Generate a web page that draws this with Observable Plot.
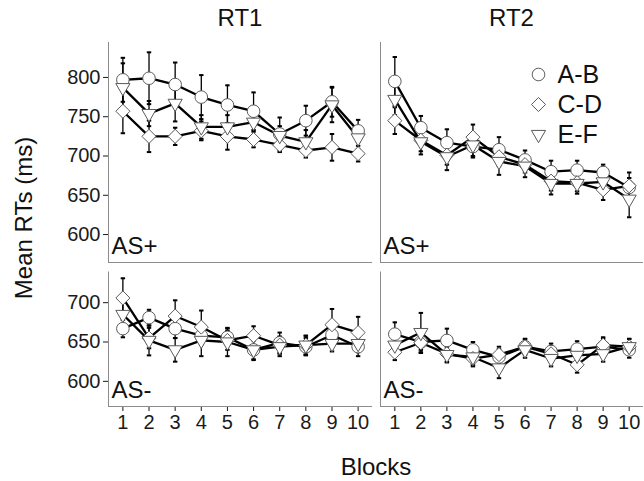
<!DOCTYPE html>
<html>
<head>
<meta charset="utf-8">
<script src="https://cdn.jsdelivr.net/npm/d3@7"></script>
<script src="https://cdn.jsdelivr.net/npm/@observablehq/plot@0.6"></script>
<style>
  html, body { margin: 0; padding: 0; background: white; }
  #chart { position: relative; width: 644px; height: 481px; background: white; overflow: hidden;
           font-family: 'Liberation Sans', Arial, Helvetica, sans-serif; color: #111; }
  .abs { position: absolute; }
  .title { font-size: 24px; line-height: 24px; white-space: nowrap; }
</style>
</head>
<body>
<div id="chart"></div>
<script>
// ---------------- data ----------------
const blocks = [1, 2, 3, 4, 5, 6, 7, 8, 9, 10];
const series = ["A-B", "C-D", "E-F"];
const rtLabels = ["RT1", "RT2"];
const asLabels = ["AS+", "AS-"];
const yTicksTop = [600, 650, 700, 750, 800];
const yTicksBottom = [600, 650, 700];

// means per series (A-B, C-D, E-F) for each panel
const rt1PlusMeans = [
  [797, 799, 791, 775, 765, 757, 728, 745, 769, 732],
  [757, 725, 725, 732, 725, 721, 714, 707, 711, 703],
  [787, 754, 767, 737, 737, 743, 726, 718, 765, 723]
];
const rt1PlusSE = [
  [28, 33, 28, 28, 25, 24, 21, 19, 19, 14],
  [28, 20, 11, 12, 17, 10, 9, 9, 17, 10],
  [31, 16, 23, 15, 15, 17, 12, 15, 22, 14]
];
const rt2PlusMeans = [
  [795, 736, 717, 712, 708, 695, 680, 682, 679, 660],
  [745, 720, 701, 724, 699, 689, 668, 666, 657, 662],
  [772, 718, 699, 714, 693, 687, 665, 665, 667, 645]
];
const rt2PlusSE = [
  [31, 15, 17, 14, 16, 12, 14, 12, 10, 12],
  [17, 14, 12, 16, 12, 10, 12, 11, 13, 17],
  [20, 16, 17, 14, 17, 14, 14, 13, 15, 23]
];
const rt1MinusMeans = [
  [667, 681, 667, 658, 656, 640, 649, 644, 659, 644],
  [706, 655, 683, 669, 652, 658, 646, 646, 672, 662],
  [685, 652, 640, 652, 650, 640, 644, 646, 648, 648]
];
const rt1MinusSE = [
  [11, 10, 12, 11, 11, 13, 13, 11, 12, 12],
  [25, 13, 20, 21, 12, 12, 11, 12, 20, 20],
  [17, 19, 15, 20, 18, 12, 12, 12, 10, 11]
];
const rt2MinusMeans = [
  [660, 650, 652, 640, 631, 644, 638, 641, 644, 640],
  [637, 649, 635, 629, 634, 644, 635, 621, 646, 644],
  [646, 662, 634, 631, 617, 640, 629, 633, 635, 644]
];
const rt2MinusSE = [
  [15, 10, 15, 10, 10, 10, 10, 10, 10, 10],
  [10, 13, 10, 10, 10, 10, 10, 10, 10, 10],
  [10, 25, 10, 10, 13, 10, 10, 12, 10, 10]
];

// ---------------- helpers ----------------
const FONT = "'Liberation Sans', Arial, Helvetica, sans-serif";
const rad = (size) => Math.sqrt(size / Math.PI);
const circleSym = { draw(ctx, size) { const r = rad(size); ctx.moveTo(r, 0); ctx.arc(0, 0, r, 0, 2 * Math.PI); } };
const diamondSym = { draw(ctx, size) { const r = rad(size) * 1.12; ctx.moveTo(0, -r); ctx.lineTo(r, 0); ctx.lineTo(0, r); ctx.lineTo(-r, 0); ctx.closePath(); } };
const triDownSym = { draw(ctx, size) { const r = rad(size); const s = 2.25 * r; const h = s * 0.866;
  ctx.moveTo(-s / 2, -h / 3); ctx.lineTo(s / 2, -h / 3); ctx.lineTo(0, 2 * h / 3); ctx.closePath(); } };
const capSym = { draw(ctx, size) { const r = rad(size); ctx.moveTo(-r, 0); ctx.lineTo(r, 0); } };

function rows(means, ses) {
  return series.flatMap((s, i) => blocks.map((b, j) => ({ block: b, series: s, mean: means[i][j], se: ses[i][j] })));
}

const xDomain = [0.45, 10.55];
const yDomainTop = [564.4, 844.5];
const yDomainBottom = [568, 739];
const symbolScale = { domain: series, range: [circleSym, diamondSym, triDownSym] };

function panel({ data, yDomain, yTicks, showY, showX, label, width, height, margins }) {
  return Plot.plot({
    width, height,
    marginLeft: margins[3], marginRight: margins[1], marginTop: margins[0], marginBottom: margins[2],
    style: { fontFamily: FONT, fontSize: "20px", color: "#1a1a1a", background: "white", overflow: "visible" },
    x: showX ? { domain: xDomain, ticks: blocks, tickSize: 5, tickPadding: 3, label: null, tickFormat: d => String(d) }
             : { domain: xDomain, axis: null },
    y: showY ? { domain: yDomain, ticks: yTicks, tickSize: 5, tickPadding: 3, label: null }
             : { domain: yDomain, axis: null },
    symbol: symbolScale,
    marks: [
      Plot.ruleX([xDomain[0]], { stroke: "#8c8c8c", strokeWidth: 1 }),
      Plot.ruleY([yDomain[0]], { stroke: "#8c8c8c", strokeWidth: 1 }),
      Plot.ruleX(data, { x: "block", y1: d => d.mean - d.se, y2: d => d.mean + d.se, stroke: "#000", strokeWidth: 1.3 }),
      Plot.dot(data, { x: "block", y: d => d.mean + d.se, symbol: capSym, r: 2.2, fill: "none", stroke: "#000", strokeWidth: 2 }),
      Plot.dot(data, { x: "block", y: d => d.mean - d.se, symbol: capSym, r: 2.2, fill: "none", stroke: "#000", strokeWidth: 2 }),
      Plot.line(data, { x: "block", y: "mean", z: "series", stroke: "#000", strokeWidth: 2.3 }),
      Plot.dot(data, { x: "block", y: "mean", symbol: "series", r: 6.3, fill: "white", stroke: "#5a5a5a", strokeWidth: 1 }),
      Plot.text([label], { text: d => d, frameAnchor: "bottom-left", lineAnchor: "bottom", textAnchor: "start",
                           dx: 3, dy: -9, fontSize: 24, fill: "#111" })
    ]
  });
}

const chart = document.getElementById("chart");
function place(node, left, top) {
  const wrap = document.createElement("div");
  wrap.className = "abs";
  wrap.style.left = left + "px";
  wrap.style.top = top + "px";
  wrap.appendChild(node);
  chart.appendChild(wrap);
}

// top-left: RT1 / AS+
place(panel({ data: rows(rt1PlusMeans, rt1PlusSE), yDomain: yDomainTop, yTicks: yTicksTop, showY: true, showX: false,
  label: asLabels[0], width: 376, height: 266, margins: [42, 4, 4, 108] }), 0, 0);
// top-right: RT2 / AS+
place(panel({ data: rows(rt2PlusMeans, rt2PlusSE), yDomain: yDomainTop, yTicks: yTicksTop, showY: false, showX: false,
  label: asLabels[0], width: 268, height: 266, margins: [42, 1, 4, 4] }), 376, 0);
// bottom-left: RT1 / AS-
place(panel({ data: rows(rt1MinusMeans, rt1MinusSE), yDomain: yDomainBottom, yTicks: yTicksBottom, showY: true, showX: true,
  label: asLabels[1], width: 376, height: 174, margins: [5.5, 4, 34, 108] }), 0, 266);
// bottom-right: RT2 / AS-
place(panel({ data: rows(rt2MinusMeans, rt2MinusSE), yDomain: yDomainBottom, yTicks: yTicksBottom, showY: false, showX: true,
  label: asLabels[1], width: 268, height: 174, margins: [5.5, 1, 34, 4] }), 376, 266);

// legend (inside RT2 / AS+ panel)
const legend = Plot.plot({
  width: 110, height: 100, margin: 0, marginLeft: 18,
  style: { fontFamily: FONT, fontSize: "25px", color: "#111", background: "transparent", overflow: "visible" },
  x: { axis: null },
  y: { type: "point", domain: series, range: [18, 79], padding: 0, axis: null },
  symbol: symbolScale,
  marks: [
    Plot.dot(series, { y: d => d, symbol: d => d, frameAnchor: "left", r: 6.3, fill: "white", stroke: "#5a5a5a", strokeWidth: 1 }),
    Plot.text(series, { y: d => d, text: d => d, frameAnchor: "left", dx: 19, textAnchor: "start", fontSize: 25, fill: "#111" })
  ]
});
place(legend, 520, 55);

// titles
function addText(txt, css) {
  const d = document.createElement("div");
  d.className = "abs title";
  d.textContent = txt;
  Object.assign(d.style, css);
  chart.appendChild(d);
}
addText(rtLabels[0], { left: "240px", top: "5.7px", transform: "translateX(-50%)" });
addText(rtLabels[1], { left: "511.5px", top: "5.7px", transform: "translateX(-50%)" });
addText("Blocks", { left: "376px", top: "455px", transform: "translateX(-50%)" });
addText("Mean RTs (ms)", { left: "23.7px", top: "218px", transform: "translate(-50%, -50%) rotate(-90deg)" });
</script>
</body>
</html>
